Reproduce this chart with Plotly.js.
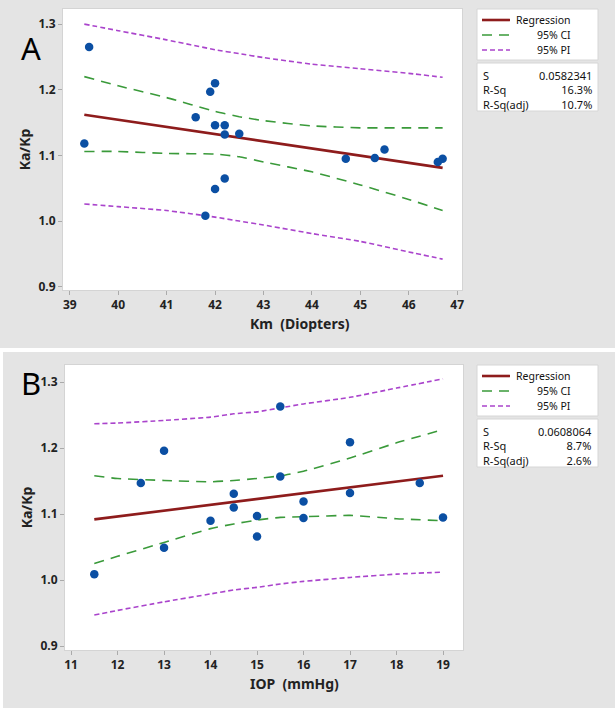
<!DOCTYPE html>
<html>
<head>
<meta charset="utf-8">
<script src="https://cdn.plot.ly/plotly-3.0.1.min.js"></script>
<style>
  html, body { margin: 0; padding: 0; background: #ffffff; }
  #plot { width: 615px; height: 708px; }
</style>
</head>
<body>
<div id="plot"></div>
<script>
// Panel A: Ka/Kp against Km
const kmX = [39.3, 39.4, 41.6, 41.9, 42.0, 42.0, 42.2, 42.2, 42.5, 42.0, 42.2, 41.8, 44.7, 45.3, 45.5, 46.6, 46.7];
const kmY = [1.118, 1.265, 1.158, 1.197, 1.210, 1.146, 1.146, 1.132, 1.133, 1.049, 1.065, 1.008, 1.095, 1.096, 1.109, 1.090, 1.095];
const kmFitX = [39.3, 46.7];
const kmFitY = [1.162, 1.081];
const kmBandX = [39.3, 40, 41, 42, 42.5, 43, 44, 45, 46, 46.7];
const kmCiUp = [1.220, 1.206, 1.188, 1.167, 1.159, 1.153, 1.145, 1.142, 1.142, 1.142];
const kmCiLo = [1.106, 1.106, 1.103, 1.102, 1.098, 1.090, 1.075, 1.055, 1.033, 1.016];
const kmPiUp = [1.300, 1.290, 1.276, 1.261, 1.255, 1.249, 1.239, 1.232, 1.225, 1.219];
const kmPiLo = [1.026, 1.022, 1.016, 1.006, 1.000, 0.994, 0.981, 0.969, 0.953, 0.942];
const kmStats = ['0.0582341', '16.3%', '10.7%'];

// Panel B: Ka/Kp against IOP
const iopX = [11.5, 12.5, 13, 13, 14, 14.5, 14.5, 15, 15, 15.5, 15.5, 16, 16, 17, 17, 18.5, 19];
const iopY = [1.009, 1.147, 1.196, 1.049, 1.090, 1.131, 1.110, 1.097, 1.066, 1.263, 1.157, 1.119, 1.094, 1.209, 1.132, 1.147, 1.095];
const iopFitX = [11.5, 19];
const iopFitY = [1.092, 1.158];
const iopBandX = [11.5, 12, 13, 14, 14.5, 15, 15.5, 16, 17, 18, 19];
const iopCiUp = [1.158, 1.154, 1.151, 1.149, 1.151, 1.154, 1.158, 1.165, 1.185, 1.208, 1.228];
const iopCiLo = [1.025, 1.036, 1.057, 1.078, 1.085, 1.091, 1.095, 1.096, 1.098, 1.093, 1.090];
const iopPiUp = [1.237, 1.238, 1.242, 1.247, 1.252, 1.255, 1.261, 1.267, 1.277, 1.291, 1.305];
const iopPiLo = [0.947, 0.954, 0.967, 0.979, 0.985, 0.989, 0.994, 0.998, 1.004, 1.009, 1.012];
const iopStats = ['0.0608064', '8.7%', '2.6%'];

const statNames = ['S', 'R-Sq', 'R-Sq(adj)'];
const legendNames = ['Regression', '95% CI', '95% PI'];
const yTicks = [0.9, 1.0, 1.1, 1.2, 1.3];

const W = 615, H = 708;
const FONT = 'Noto Sans, Open Sans, sans-serif';
const RED = '#8e1c1c';
const GREEN = '#3a9a3a';
const PURPLE = '#aa44cc';
const BLUE = '#0b4fa3';
const CI_DASH = '10px,7px';
const PI_DASH = '5px,3px';

const px = (x) => x / W;
const py = (y) => (H - y) / H;

function panelTraces(ax, pts, fit, band) {
  const xa = ax === 1 ? 'x' : 'x2';
  const ya = ax === 1 ? 'y' : 'y2';
  const bandLine = (y, color, dash) => ({
    x: band.x, y: y, type: 'scatter', mode: 'lines',
    xaxis: xa, yaxis: ya, showlegend: false,
    line: { color: color, width: 1.6, dash: dash, shape: 'spline', smoothing: 0.5 },
    hoverinfo: 'skip'
  });

  return [
    bandLine(band.piUp, PURPLE, PI_DASH),
    bandLine(band.piLo, PURPLE, PI_DASH),
    bandLine(band.ciUp, GREEN, CI_DASH),
    bandLine(band.ciLo, GREEN, CI_DASH),
    {
      x: fit.x, y: fit.y, type: 'scatter', mode: 'lines',
      xaxis: xa, yaxis: ya, showlegend: false,
      line: { color: RED, width: 2.6 }
    },
    {
      x: pts.x, y: pts.y, type: 'scatter', mode: 'markers',
      xaxis: xa, yaxis: ya, showlegend: false,
      marker: { color: BLUE, size: 8.5 }
    }
  ];
}

const traces = [
  ...panelTraces(1, { x: kmX, y: kmY }, { x: kmFitX, y: kmFitY },
    { x: kmBandX, ciUp: kmCiUp, ciLo: kmCiLo, piUp: kmPiUp, piLo: kmPiLo }),
  ...panelTraces(2, { x: iopX, y: iopY }, { x: iopFitX, y: iopFitY },
    { x: iopBandX, ciUp: iopCiUp, ciLo: iopCiLo, piUp: iopPiUp, piLo: iopPiLo })
];

const tickFont = { family: FONT, size: 12, color: '#222', weight: 'bold' };
const titleFont = { family: FONT, size: 14, color: '#222', weight: 'bold' };
const boxFont = { family: FONT, size: 11, color: '#111' };
const legendFont = { family: FONT, size: 10.5, color: '#111' };

function xAxis(domain, range, anchor) {
  return {
    domain: domain, range: range, dtick: 1, tick0: 0, anchor: anchor,
    showgrid: false, zeroline: false,
    showline: true, linecolor: '#d4d4d4', linewidth: 1, mirror: true,
    ticks: 'outside', ticklen: 4, tickcolor: '#aaa',
    tickfont: tickFont,
    fixedrange: true
  };
}

function yAxis(domain, range, anchor) {
  return {
    domain: domain, range: range, anchor: anchor,
    tickvals: yTicks, tickformat: '.1f',
    showgrid: false, zeroline: false,
    showline: true, linecolor: '#d4d4d4', linewidth: 1, mirror: true,
    ticks: 'outside', ticklen: 4, tickcolor: '#aaa',
    tickfont: tickFont,
    title: { text: 'Ka/Kp', font: titleFont, standoff: 4 },
    fixedrange: true
  };
}

// Minitab centres the x title right of the plot centre, so it is an annotation
function xTitle(text, cx, cy) {
  return {
    xref: 'paper', yref: 'paper', x: px(cx), y: py(cy),
    xanchor: 'center', yanchor: 'middle', showarrow: false,
    text: text, font: titleFont
  };
}

// Legend and statistics boxes drawn Minitab style (sample left, text right aligned)
function sideBoxes(top, values) {
  const left = 477, right = 598;
  const box = (y0, y1) => ({
    type: 'rect', xref: 'paper', yref: 'paper',
    x0: px(left), x1: px(right), y0: py(y1), y1: py(y0),
    fillcolor: '#ffffff', line: { color: '#d6d6d6', width: 1 }
  });
  const styles = [
    { color: RED, width: 2.6, dash: 'solid' },
    { color: GREEN, width: 1.6, dash: CI_DASH },
    { color: PURPLE, width: 1.6, dash: PI_DASH }
  ];
  const rows = [top + 11, top + 26, top + 41];

  const shapes = [box(top, top + 51), box(top + 54, top + 102)];
  const annotations = [];

  legendNames.forEach((name, i) => {
    shapes.push({
      type: 'line', xref: 'paper', yref: 'paper',
      x0: px(482), x1: px(510), y0: py(rows[i]), y1: py(rows[i]),
      line: styles[i]
    });
    annotations.push({
      xref: 'paper', yref: 'paper', x: px(573), y: py(rows[i]),
      xanchor: 'right', yanchor: 'middle', showarrow: false,
      text: name, font: legendFont
    });
  });

  const statTop = top + 54;
  annotations.push({
    xref: 'paper', yref: 'paper', x: px(481), y: py(statTop + 3),
    xanchor: 'left', yanchor: 'top', showarrow: false, align: 'left',
    text: statNames.join('<br>'), font: boxFont
  });
  annotations.push({
    xref: 'paper', yref: 'paper', x: px(594), y: py(statTop + 3),
    xanchor: 'right', yanchor: 'top', showarrow: false, align: 'right',
    text: values.join('<br>'), font: boxFont
  });

  return { shapes, annotations };
}

const sideA = sideBoxes(9, kmStats);
const sideB = sideBoxes(365, iopStats);

const layout = {
  width: W, height: H,
  margin: { l: 0, r: 0, t: 0, b: 0 },
  paper_bgcolor: '#e4e4e4',
  plot_bgcolor: '#ffffff',
  font: { family: FONT },
  showlegend: false,
  xaxis: xAxis([px(63), px(462)], [38.86, 47.1], 'y'),
  yaxis: yAxis([py(290), py(9)], [0.895, 1.323], 'x'),
  xaxis2: xAxis([px(65), px(463)], [10.87, 19.43], 'y2'),
  yaxis2: yAxis([py(650), py(365)], [0.894, 1.326], 'x2'),
  shapes: [
    // white gap between the two panels
    { type: 'rect', xref: 'paper', yref: 'paper', x0: 0, x1: 1, y0: py(352), y1: py(348),
      fillcolor: '#ffffff', line: { width: 0 }, layer: 'below' },
    { type: 'rect', xref: 'paper', yref: 'paper', x0: 0, x1: px(3), y0: 0, y1: py(350),
      fillcolor: '#ffffff', line: { width: 0 }, layer: 'below' },
    ...sideA.shapes,
    ...sideB.shapes
  ],
  annotations: [
    { xref: 'paper', yref: 'paper', x: px(19), y: py(25), text: 'A', showarrow: false,
      font: { family: FONT, size: 31, color: '#000' } },
    { xref: 'paper', yref: 'paper', x: px(19), y: py(383), text: 'B', showarrow: false,
      font: { family: FONT, size: 31, color: '#000' } },
    xTitle('Km\u00a0\u00a0(Diopters)', 300, 323),
    xTitle('IOP\u00a0\u00a0(mmHg)', 294, 683),
    ...sideA.annotations,
    ...sideB.annotations
  ]
};

Plotly.newPlot('plot', traces, layout, { displayModeBar: false, staticPlot: true });
</script>
</body>
</html>
